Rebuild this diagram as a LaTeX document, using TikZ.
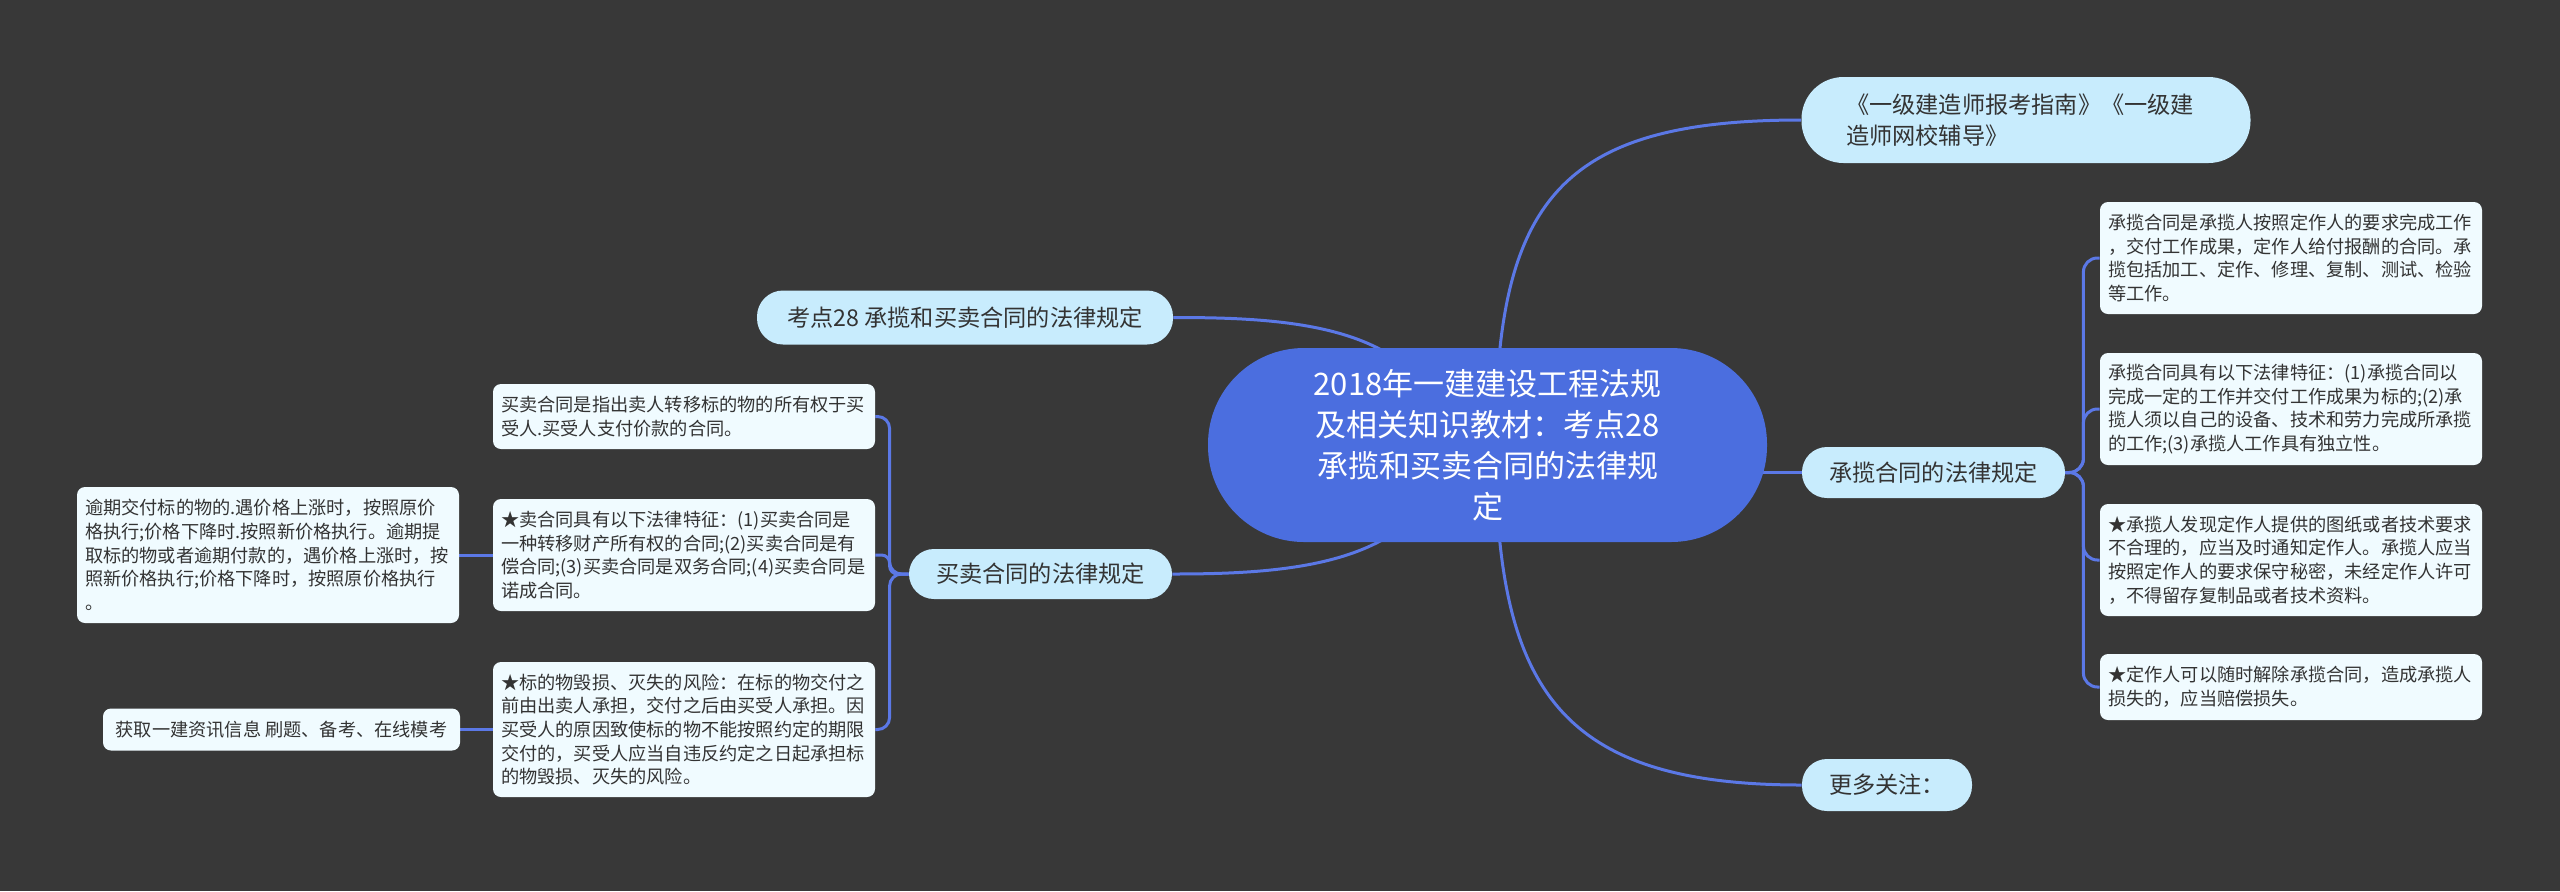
\documentclass[tikz,border=0pt]{standalone}
\usepackage{fontspec}
\setmainfont{Noto Sans CJK SC}
\usetikzlibrary{backgrounds}
\definecolor{bgc}{HTML}{383838}
\definecolor{centralc}{HTML}{4B6EDF}
\definecolor{linkc}{HTML}{5B78E6}
\definecolor{branchc}{HTML}{C8ECFD}
\definecolor{leafc}{HTML}{F0FBFF}
\definecolor{textc}{HTML}{333333}
\begin{document}
\begin{tikzpicture}[x=0.5pt,y=-0.5pt,
  central/.style={fill=centralc, text=white, rounded corners=48pt, minimum width=279.5pt, minimum height=97pt, align=center, inner sep=0pt, font=\fontsize{15.5}{20.4}\selectfont},
  branch/.style={fill=branchc, text=textc, inner sep=0pt, align=left, font=\fontsize{11.6}{15.5}\selectfont},
  leaf/.style={fill=leafc, text=textc, rounded corners=4pt, text width=183pt, inner xsep=4pt, inner ysep=0pt, align=left, minimum width=191pt, font=\fontsize{9.1}{11.85}\selectfont},
  link/.style={draw=linkc, line width=1.5pt}]
\useasboundingbox (0,0) rectangle (2560,891);

\node[central] (C) at (1487.5,445) {2018年一建建设工程法规\\及相关知识教材：考点28\\承揽和买卖合同的法律规\\定};

\node[branch, rounded corners=21pt, text width=180pt, inner xsep=22pt, minimum width=224.5pt, minimum height=43pt] (N1) at (2026,120) {《一级建造师报考指南》《一级建\\造师网校辅导》};
\node[branch, rounded corners=12.5pt, minimum width=131.5pt, minimum height=25.5pt] (N2) at (1933.5,472.5) {承揽合同的法律规定};
\node[branch, rounded corners=12.5pt, minimum width=85pt, minimum height=26pt] (MF) at (1887,785) {更多关注：};
\node[branch, rounded corners=13pt, minimum width=208pt, minimum height=27pt] (K) at (965,317.5) {考点28 承揽和买卖合同的法律规定};
\node[branch, rounded corners=12.5pt, minimum width=131.5pt, minimum height=25pt] (M) at (1040.5,574) {买卖合同的法律规定};

\node[leaf, minimum height=56pt] (R1) at (2291,258) {承揽合同是承揽人按照定作人的要求完成工作\\，交付工作成果，定作人给付报酬的合同。承\\揽包括加工、定作、修理、复制、测试、检验\\等工作。};
\node[leaf, minimum height=56pt] (R2) at (2291,409) {承揽合同具有以下法律特征：(1)承揽合同以\\完成一定的工作并交付工作成果为标的;(2)承\\揽人须以自己的设备、技术和劳力完成所承揽\\的工作;(3)承揽人工作具有独立性。};
\node[leaf, minimum height=56pt] (R3) at (2291,560) {★承揽人发现定作人提供的图纸或者技术要求\\不合理的，应当及时通知定作人。承揽人应当\\按照定作人的要求保守秘密，未经定作人许可\\，不得留存复制品或者技术资料。};
\node[leaf, minimum height=33pt] (R4) at (2291,687) {★定作人可以随时解除承揽合同，造成承揽人\\损失的，应当赔偿损失。};

\node[leaf, minimum height=32.5pt] (L1) at (684,416.5) {买卖合同是指出卖人转移标的物的所有权于买\\受人.买受人支付价款的合同。};
\node[leaf, minimum height=56pt] (L2) at (684,555) {★卖合同具有以下法律特征：(1)买卖合同是\\一种转移财产所有权的合同;(2)买卖合同是有\\偿合同;(3)买卖合同是双务合同;(4)买卖合同是\\诺成合同。};
\node[leaf, minimum height=67.5pt] (L3) at (684,729.5) {★标的物毁损、灭失的风险：在标的物交付之\\前由出卖人承担，交付之后由买受人承担。因\\买受人的原因致使标的物不能按照约定的期限\\交付的，买受人应当自违反约定之日起承担标\\的物毁损、灭失的风险。};
\node[leaf, minimum height=68pt] (LL1) at (268,555) {逾期交付标的物的.遇价格上涨时，按照原价\\格执行;价格下降时.按照新价格执行。逾期提\\取标的物或者逾期付款的，遇价格上涨时，按\\照新价格执行;价格下降时，按照原价格执行\\。};
\node[leaf, text width=, align=center, minimum width=178.5pt, minimum height=21pt] (LL2) at (281.5,729.5) {获取一建资讯信息 刷题、备考、在线模考};

\begin{scope}[on background layer]
\fill[bgc] (0,0) rectangle (2560,891);
\draw[link] ([xshift=4pt]C.center) .. controls +(0,-245) and +(-241,0) .. (N1.west);
\draw[link] ([xshift=4pt]C.center) .. controls +(0,245) and +(-242,0) .. (MF.west);
\draw[link] ([yshift=-13.75pt]C.center) -- (N2.west);
\draw[link] ([xshift=-19pt]C.center) .. controls +(-20,-120) and +(120,0) .. (K.east);
\draw[link] ([xshift=-19pt]C.center) .. controls +(-20,120) and +(120,0) .. (M.east);
\draw[link, rounded corners=7pt] (N2.east) -- ++(18,0) |- (R1.west);
\draw[link, rounded corners=7pt] (N2.east) -- ++(18,0) |- (R2.west);
\draw[link, rounded corners=7pt] (N2.east) -- ++(18,0) |- (R3.west);
\draw[link, rounded corners=7pt] (N2.east) -- ++(18,0) |- (R4.west);
\draw[link, rounded corners=6pt] (M.west) -- ++(-19,0) |- (L1.east);
\draw[link, rounded corners=4pt] (M.west) -- ++(-19,0) |- (L2.east);
\draw[link, rounded corners=6pt] (M.west) -- ++(-19,0) |- (L3.east);
\draw[link] (L2.west) -- (LL1.east);
\draw[link] (L3.west) -- (LL2.east);
\end{scope}
\end{tikzpicture}
\end{document}
